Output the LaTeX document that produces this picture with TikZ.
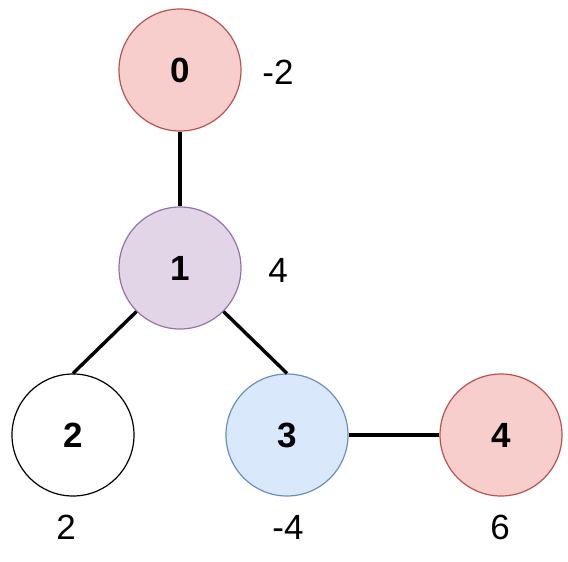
\documentclass[tikz,border=0pt]{standalone}
\usepackage{fontspec}
\setmainfont{Liberation Sans}
\usepackage{tikz}
\usetikzlibrary{positioning, calc}

\definecolor{redfill}{HTML}{F8CECC}
\definecolor{redline}{HTML}{B85450}
\definecolor{purplefill}{HTML}{E1D5E7}
\definecolor{purpleline}{HTML}{9673A6}
\definecolor{bluefill}{HTML}{DAE8FC}
\definecolor{blueline}{HTML}{6C8EBF}

\begin{document}
\begin{tikzpicture}[
              x=1pt, y=-1pt,
              font=\fontsize{35}{42}\selectfont,
              vertex/.style={draw, circle, line width=1.2pt, minimum size=122pt, inner sep=0pt, font=\fontsize{35}{42}\selectfont\bfseries},
              weight/.style={inner sep=0pt},
              edge/.style={line width=3.4pt}
            ]
              \useasboundingbox (0,0) rectangle (568,562);

              \node[vertex, fill=redfill, draw=redline] (v0) at (180,70) {0};
              \node[vertex, fill=purplefill, draw=purpleline] (v1) at (180,268) {1};
              \node[vertex, fill=white, draw=black] (v2) at (73,435) {2};
              \node[vertex, fill=bluefill, draw=blueline] (v3) at (287,435) {3};
              \node[vertex, fill=redfill, draw=redline] (v4) at (501,435) {4};

              \node[weight] (w0) at (278,72) {-2};
              \node[weight] (w1) at (278,270) {4};
              \node[weight] (w2) at (66,527) {2};
              \node[weight] (w3) at (288,527) {-4};
              \node[weight] (w4) at (500,527) {6};

              \draw[edge] (v0) -- (v1);
              \draw[edge] (v1.south west) -- (v2.north);
              \draw[edge] (v1.south east) -- (v3.north);
              \draw[edge] (v3) -- (v4);
            \end{tikzpicture}
\end{document}
